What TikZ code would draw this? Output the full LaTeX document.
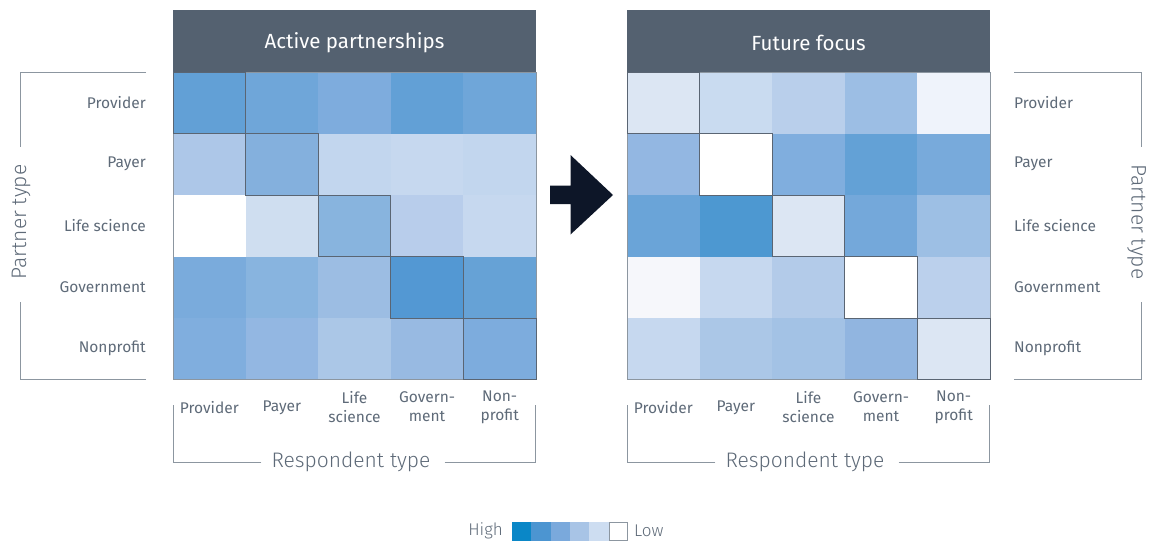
\documentclass[tikz,border=0pt]{standalone}
\usepackage{fontspec}
\setmainfont{Fira Sans}
\newfontfamily\lightfont{Fira Sans Light}
\usetikzlibrary{positioning}

\definecolor{headgray}{HTML}{546170}
\definecolor{labelgray}{HTML}{5E6A78}
\definecolor{rulegray}{HTML}{8C96A0}
\definecolor{diaggray}{HTML}{5A6573}
\definecolor{arrownavy}{HTML}{0D1628}

\tikzset{
  rowlab/.style={font=\fontsize{15.5}{17}\selectfont, text=labelgray, inner sep=0pt},
  collab/.style={font=\fontsize{15.5}{19}\selectfont, text=labelgray, align=center, inner sep=0pt},
  leglab/.style={font=\lightfont\fontsize{17}{19}\selectfont, text=labelgray, inner sep=0pt},
  axistitle/.style={font=\lightfont\fontsize{21}{24}\selectfont, text=labelgray, inner sep=0pt},
  headtitle/.style={font=\fontsize{20.5}{23}\selectfont, text=white, inner sep=0pt},
  bracket/.style={draw=rulegray, line width=1pt},
}

\begin{document}
\begin{tikzpicture}[x=1pt, y=-1pt]
\useasboundingbox (0,0) rectangle (1149,541);

% heat maps: cells row by row
\foreach \xo/\cells in {173/{{62A0D6,6FA6D9,7EACDD,62A0D6,6FA6D9},
                              {ADC7E8,84B0DD,C2D6EE,C6D8EF,C2D6EE},
                              {FFFFFF,CFDEF0,88B4DE,B8CDEB,C6D8EF},
                              {7AABDC,88B4DF,9CBDE3,5398D3,66A2D6},
                              {80AEDE,93B7E2,ABC7E7,98BAE2,7DACDD}},
                        627/{{DCE6F3,C9DBF0,B9CFEB,9CBEE4,EFF3FB},
                              {93B7E2,FFFFFF,80AEDE,63A1D6,78AADB},
                              {6AA4D8,4D98D1,DCE6F3,74A8DA,9DBFE4},
                              {F6F7FB,C6D8EF,B3CBE9,FFFFFF,BBD0EC},
                              {C6D8EF,ABC7E7,A3C2E5,91B5E0,DCE6F3}}} {
  \foreach \row [count=\r] in \cells {
    \foreach \hx [count=\c] in \row {
      \definecolor{cellc}{HTML}{\hx}
      \fill[cellc] ({\xo+(\c-1)*72.6},{72+(\r-1)*61.5}) rectangle ++(72.6,61.5);
    }
  }
  \draw[rulegray, line width=1pt] (\xo,72) rectangle ++(363,307.5);
  \foreach \d in {0,...,4}
    \draw[diaggray, line width=1pt] ({\xo+\d*72.6},{72+\d*61.5}) rectangle ++(72.6,61.5);
  \fill[headgray] (\xo,10) rectangle ++(363,62);
}

\node[headtitle] (acttitle) at (354.5,43) {Active partnerships};
\node[headtitle] (futtitle) at (808.5,43) {Future focus};

% row labels
\foreach \lab [count=\i] in {Provider,Payer,Life science,Government,Nonprofit} {
  \node[rowlab, anchor=east] (lrow\i) at (146,{102.5+(\i-1)*61.5}) {\lab};
  \node[rowlab, anchor=west] (rrow\i) at (1014,{102.5+(\i-1)*61.5}) {\lab};
}

% column labels
\foreach \xo/\nm in {173/l,627/r} {
  \node[collab] (\nm col1) at (\xo+36.3,408) {Provider};
  \node[collab] (\nm col2) at (\xo+108.9,408) {Payer};
  \node[collab] (\nm col3) at (\xo+181.5,407) {Life\\science};
  \node[collab] (\nm col4) at (\xo+254.1,407) {Govern-\\ment};
  \node[collab] (\nm col5) at (\xo+326.7,407) {Non-\\profit};
  \node[axistitle] (\nm resp) at (\xo+178,462) {Respondent type};
  \draw[bracket] (\nm resp.west) ++(-10,0) -| (\xo,405);
  \draw[bracket] (\nm resp.east) ++(14,0) -| (\xo+362.5,405);
}

% partner type brackets
\node[axistitle, rotate=90, anchor=base] (lpart) at (26,222) {Partner type};
\draw[bracket] (146,72) -| (20,147);
\draw[bracket] (146,379.5) -| (20,302);
\node[axistitle, rotate=-90, anchor=base] (rpart) at (1131.5,222) {Partner type};
\draw[bracket] (1014,72) -| (1141.5,147);
\draw[bracket] (1014,379.5) -| (1141.5,302);

% arrow
\fill[arrownavy] (550,185.5) -- (570.5,185.5) -- (570.5,155) -- (613,195)
  -- (570.5,234.5) -- (570.5,204) -- (550,204) -- cycle;

% legend
\node[leglab, anchor=east] (high) at (503,531) {High};
\foreach \hx [count=\k] in {0A87C7,4C95D1,7AA9DC,A8C4E6,CDDDF1} {
  \definecolor{legc}{HTML}{\hx}
  \fill[legc] ({512+(\k-1)*19.3},521.5) rectangle ++(19.3,19);
}
\draw[rulegray, line width=0.8pt, fill=white] (608.9,522) rectangle (627.5,540);
\node[leglab, anchor=west] (low) at (634,531) {Low};
\end{tikzpicture}
\end{document}
